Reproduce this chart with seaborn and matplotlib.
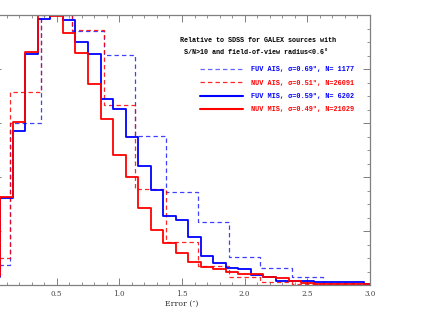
import numpy as np
import pandas as pd
import matplotlib
matplotlib.use('Agg')
import matplotlib.pyplot as plt
from matplotlib.lines import Line2D
from matplotlib.ticker import MultipleLocator, FuncFormatter
from matplotlib.font_manager import FontProperties
import seaborn as sns

# ---------------- data (normalised histograms, peak = 1) ----------------
mis_centers = [0.0, 0.1, 0.2, 0.3, 0.4, 0.5, 0.6, 0.7, 0.8, 0.9,
               1.0, 1.1, 1.2, 1.3, 1.4, 1.5, 1.6, 1.7, 1.8, 1.9,
               2.0, 2.1, 2.2, 2.3, 2.4, 2.5, 2.6, 2.7, 2.8, 2.9, 3.0]
fuv_mis = [0.030, 0.322, 0.570, 0.856, 0.985, 1.000, 0.980, 0.900, 0.856, 0.689,
           0.652, 0.548, 0.440, 0.352, 0.256, 0.241, 0.178, 0.107, 0.083, 0.062,
           0.059, 0.037, 0.030, 0.016, 0.016, 0.016, 0.011, 0.011, 0.011, 0.011, 0.005]
nuv_mis = [0.035, 0.326, 0.604, 0.863, 1.000, 0.995, 0.933, 0.859, 0.744, 0.615,
           0.481, 0.400, 0.285, 0.204, 0.156, 0.119, 0.085, 0.067, 0.060, 0.048,
           0.041, 0.040, 0.028, 0.027, 0.015, 0.007, 0.005, 0.004, 0.003, 0.002, 0.002]

ais_centers = [0.0, 0.25, 0.5, 0.75, 1.0, 1.25, 1.5, 1.75, 2.0, 2.25, 2.5, 2.75, 3.0]
fuv_ais = [0.074, 0.600, 1.000, 0.940, 0.852, 0.550, 0.344, 0.233, 0.104, 0.063, 0.030, 0.007, 0.003]
nuv_ais = [0.100, 0.715, 1.000, 0.944, 0.667, 0.356, 0.159, 0.070, 0.030, 0.011, 0.004, 0.002, 0.001]

legend_labels = ['FUV AIS, \u03c3=0.69\u2033, N= 1177',
                 'NUV AIS, \u03c3=0.51\u2033, N=26091',
                 'FUV MIS, \u03c3=0.59\u2033, N= 6202',
                 'NUV MIS, \u03c3=0.49\u2033, N=21029']
header_lines = ['Relative to SDSS for GALEX sources with',
                'S/N>10 and field-of-view radius<0.6\u00b0']
x_label = 'Error (\u2033)'

BLUE = '#0000ff'
RED = '#ff0000'

# ---------------- figure ----------------
sns.set_theme(style='white')
plt.rcParams['font.family'] = ['DejaVu Serif']

W, H = 431, 312
fig = plt.figure(figsize=(W / 100, H / 100), dpi=100)
ax = fig.add_axes([-6 / W, 1 - 285 / H, 376 / W, 270 / H])

def edges_from(centers, width):
    c = np.asarray(centers, dtype=float)
    return [float(v) for v in np.append(c - width / 2, c[-1] + width / 2)]

mis_edges = edges_from(mis_centers, 0.1)
ais_edges = edges_from(ais_centers, 0.25)

df_ais = pd.DataFrame({'x': ais_centers, 'fuv': fuv_ais, 'nuv': nuv_ais})
df_mis = pd.DataFrame({'x': mis_centers, 'fuv': fuv_mis, 'nuv': nuv_mis})

dash = (3.5, 2.5)
sns.histplot(data=df_ais, x='x', weights='fuv', bins=ais_edges, element='step',
             fill=False, color=BLUE, linewidth=0.9, linestyle=(0, dash), alpha=0.75, ax=ax)
sns.histplot(data=df_ais, x='x', weights='nuv', bins=ais_edges, element='step',
             fill=False, color=RED, linewidth=0.9, linestyle=(0, dash), alpha=0.85, ax=ax)
sns.histplot(data=df_mis, x='x', weights='fuv', bins=mis_edges, element='step',
             fill=False, color=BLUE, linewidth=1.3, ax=ax)
sns.histplot(data=df_mis, x='x', weights='nuv', bins=mis_edges, element='step',
             fill=False, color=RED, linewidth=1.3, ax=ax)

ax.set_xlim(0, 3.0)
ax.set_ylim(0, 1.0)
ax.set_ylabel('')
ax.set_xlabel(x_label, fontsize=5.6, color='#333333', labelpad=1.5)

ax.xaxis.set_major_locator(MultipleLocator(0.5))
ax.xaxis.set_minor_locator(MultipleLocator(0.1))
ax.yaxis.set_major_locator(MultipleLocator(0.2))
ax.yaxis.set_minor_locator(MultipleLocator(0.05))
ax.xaxis.set_major_formatter(FuncFormatter(lambda v, p: '' if abs(v) < 1e-9 else f'{v:.1f}'))
ax.tick_params(which='both', direction='in', top=True, right=True, left=True, bottom=True,
               colors='#808080', labelcolor='#444444', labelsize=5.2, labelleft=False)
ax.tick_params(which='major', length=5, width=0.7, pad=3.5)
ax.tick_params(which='minor', length=2.5, width=0.6)
for s in ax.spines.values():
    s.set_color('#808080')
    s.set_linewidth(0.9)

# legend
fp = FontProperties(family=['Liberation Mono', 'DejaVu Sans Mono'], weight='bold', size=4.95)
fph = FontProperties(family=['Liberation Mono', 'DejaVu Sans Mono'], weight='bold', size=4.85)
handles = [Line2D([], [], color=BLUE, lw=0.9, ls=(0, dash), alpha=0.6),
           Line2D([], [], color=RED, lw=0.9, ls=(0, dash), alpha=0.85),
           Line2D([], [], color=BLUE, lw=1.5),
           Line2D([], [], color=RED, lw=1.5)]
leg = ax.legend(handles, legend_labels, loc='upper left',
                bbox_to_anchor=(200 / W, 1 - 66.5 / H), bbox_transform=fig.transFigure,
                frameon=False, borderpad=0, borderaxespad=0, handlelength=6.3,
                handletextpad=1.1, labelspacing=0.92, prop=fp)
for t, c in zip(leg.get_texts(), [BLUE, RED, BLUE, RED]):
    t.set_color(c)

fig.text(180 / W, 1 - 40.7 / H, header_lines[0], fontproperties=fph, ha='left', va='center', color='black')
fig.text(184 / W, 1 - 53 / H, header_lines[1], fontproperties=fph, ha='left', va='center', color='black')

fig.savefig('out.png', dpi=100)
